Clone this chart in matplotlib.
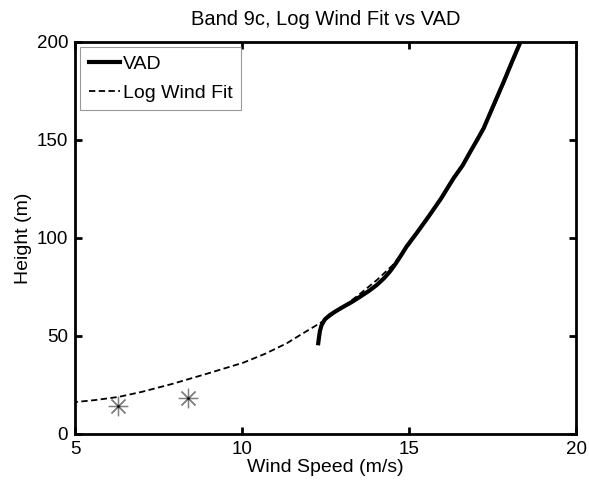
import matplotlib
matplotlib.use("Agg")
import matplotlib.pyplot as plt

plt.rcParams['font.family'] = ['Liberation Sans', 'DejaVu Sans']

# VAD profile (wind speed m/s, height m)
vad_u = [12.28, 12.30, 12.33, 12.38, 12.48, 12.63, 12.82, 13.03, 13.28, 13.53,
         13.78, 14.03, 14.25, 14.43, 14.60, 14.76, 14.93, 15.23, 15.58, 15.95,
         16.33, 16.60, 16.83, 17.05, 17.23, 17.53, 17.83, 18.08, 18.32]
vad_z = [46.3, 49.0, 52.5, 55.6, 58.5, 60.7, 62.8, 64.9, 67.3, 70.0,
         72.8, 76.0, 79.5, 83.0, 87.0, 91.2, 95.8, 102.6, 110.9, 120.0,
         130.5, 137.0, 144.0, 150.5, 156.0, 167.9, 179.7, 190.0, 199.5]

# Log wind fit
fit_u = [4.9, 5.6, 6.3, 7.0, 7.9, 8.9, 10.04, 10.7, 11.34, 11.74, 12.49,
         13.0, 13.53, 14.03, 14.5, 15.0, 15.5, 16.0, 16.5, 17.0, 17.5, 18.0,
         18.36]
fit_z = [16.1, 17.3, 18.9, 21.5, 25.5, 30.5, 36.4, 41.0, 46.3, 50.5, 58.2,
         64.5, 71.5, 78.5, 86.0, 96.5, 108.5, 121.0, 134.5, 149.0, 165.5, 185.5,
         200.5]

# Observed points (asterisks)
obs_u = [6.3, 8.38]
obs_z = [14.3, 18.4]

fig = plt.figure(figsize=(5.89, 4.90), dpi=100)
ax = fig.add_axes([0.1273, 0.1143, 0.851, 0.80])

ax.plot(vad_u, vad_z, color='black', linewidth=3.0, label='VAD', zorder=3)
ax.plot(fit_u, fit_z, color='black', linewidth=1.3, linestyle=(0, (3.5, 1.9)),
        label='Log Wind Fit', zorder=2)
ax.plot(obs_u, obs_z, linestyle='none', marker=(8, 2, 0), markersize=14,
        markeredgecolor='#7f7f7f', markeredgewidth=0.9, zorder=4)
ax.plot(obs_u, obs_z, linestyle='none', marker='.', markersize=2,
        color='black', zorder=5)

ax.set_xlim(5, 20)
ax.set_ylim(0, 200)
ax.set_xticks([5, 10, 15, 20])
ax.set_yticks([0, 50, 100, 150, 200])

for s in ax.spines.values():
    s.set_linewidth(2.0)
ax.tick_params(direction='in', length=5, width=2.0, top=True, right=True,
               labelsize=13.5, pad=5)

ax.set_xlabel('Wind Speed (m/s)', fontsize=14, labelpad=1)
ax.set_ylabel('Height (m)', fontsize=14, labelpad=3)
ax.set_title('Band 9c, Log Wind Fit vs VAD', fontsize=14.5, pad=12)

leg = ax.legend(loc='upper left', fontsize=14, frameon=True, fancybox=False,
                handlelength=1.6, handletextpad=0.15, borderpad=0.45,
                labelspacing=0.55, borderaxespad=0.25, edgecolor='#808080')
leg.get_frame().set_linewidth(0.8)

fig.savefig('out.png', dpi=100)
